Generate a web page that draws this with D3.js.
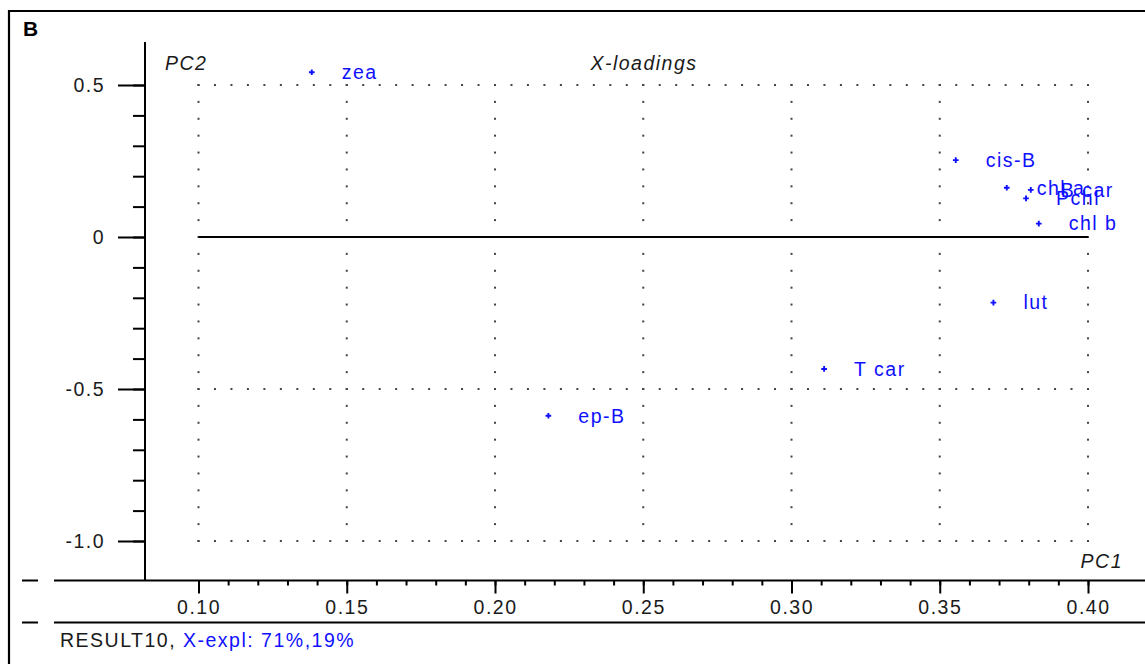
<!DOCTYPE html>
<html>
<head>
<meta charset="utf-8">
<script src="https://cdn.jsdelivr.net/npm/d3@7"></script>
<style>
  body { margin: 0; background: #fff; }
  svg { display: block; }
  text { font-family: "Liberation Sans", Arial, sans-serif; }
</style>
</head>
<body>
<svg id="chart" width="1145" height="664"></svg>
<script>
// X-loadings of the PCA model (PC1 vs PC2)
const variables = ["zea", "cis-B", "chl a", "B car", "Pchl", "chl b", "lut", "T car", "ep-B"];
const pc1 = [0.1382, 0.3554, 0.3726, 0.3807, 0.3791, 0.3834, 0.3681, 0.3110, 0.2180];
const pc2 = [0.542, 0.253, 0.162, 0.155, 0.127, 0.044, -0.216, -0.434, -0.588];

const xTicks = [0.10, 0.15, 0.20, 0.25, 0.30, 0.35, 0.40];
const xTickLabels = ["0.10", "0.15", "0.20", "0.25", "0.30", "0.35", "0.40"];
const yTicks = [0.5, 0, -0.5, -1.0];
const yTickLabels = ["0.5", "0", "-0.5", "-1.0"];
const yGridLines = [0.5, -0.5, -1.0];

const svg = d3.select("#chart");
const blue = "#1010ff";
const ink = "#1a1a1a";
const fontSize = 19.5;
const spacing = "1.5px";

const x = d3.scaleLinear().domain([0.10, 0.40]).range([198.5, 1088]);
const y = d3.scaleLinear().domain([0.5, -1.0]).range([85, 541]);

const axisY0 = 580.5;   // horizontal axis line
const axisX0 = 145;     // vertical axis line
const lowerRule = 622.5;

// frame
svg.append("path")
  .attr("d", "M9,664 V11 H1145")
  .attr("fill", "none").attr("stroke", "#000").attr("stroke-width", 2.2);

svg.append("text").attr("x", 23).attr("y", 36)
  .attr("font-size", 21).attr("font-weight", "bold").text("B");

// dotted grid
const xStep = 0.05 / 9;
const yStep = 0.5 / 9;
const gridDots = [];
xTicks.forEach(xv => {
  for (let k = 0; k <= 27; k++) gridDots.push([xv, 0.5 - k * yStep]);
});
yGridLines.forEach(yv => {
  for (let k = 0; k <= 54; k++) gridDots.push([0.10 + k * xStep, yv]);
});
svg.append("g").selectAll("rect").data(gridDots).join("rect")
  .attr("x", d => x(d[0]) - 1).attr("y", d => y(d[1]) - 1)
  .attr("width", 2).attr("height", 2).attr("fill", "#444");

// zero line
svg.append("line")
  .attr("x1", x(0.10)).attr("x2", x(0.40))
  .attr("y1", y(0)).attr("y2", y(0))
  .attr("stroke", "#000").attr("stroke-width", 2);

// axis lines
svg.append("line").attr("x1", axisX0).attr("x2", axisX0).attr("y1", 42).attr("y2", axisY0)
  .attr("stroke", "#000").attr("stroke-width", 2);
svg.append("line").attr("x1", 54).attr("x2", 1145).attr("y1", axisY0).attr("y2", axisY0)
  .attr("stroke", "#000").attr("stroke-width", 2);
svg.append("line").attr("x1", 54).attr("x2", 1145).attr("y1", lowerRule).attr("y2", lowerRule)
  .attr("stroke", "#000").attr("stroke-width", 2);
[axisY0, lowerRule].forEach(yy => {
  svg.append("line").attr("x1", 22).attr("x2", 38).attr("y1", yy).attr("y2", yy)
    .attr("stroke", "#000").attr("stroke-width", 2);
});

function styleAxis(g) {
  g.select(".domain").remove();
  g.selectAll(".tick line").attr("stroke", "#000").attr("stroke-width", 2);
  g.selectAll(".tick text").attr("font-size", fontSize).attr("fill", ink)
    .attr("font-family", "\"Liberation Sans\", Arial, sans-serif")
    .style("letter-spacing", spacing);
}

// x axis: minor ticks every 0.01, major ticks every 0.05
const xMinor = d3.range(10, 41).map(v => v / 100);
svg.append("g").attr("transform", `translate(0,${axisY0})`)
  .call(d3.axisBottom(x).tickValues(xMinor).tickSize(5).tickFormat(""))
  .call(styleAxis);
svg.append("g").attr("transform", `translate(0,${axisY0})`)
  .call(d3.axisBottom(x).tickValues(xTicks).tickSize(13).tickPadding(7)
    .tickFormat((d, i) => xTickLabels[i]))
  .call(styleAxis);

// y axis: minor ticks every 0.1, major ticks every 0.5
const yMinor = d3.range(-10, 6).map(v => v / 10);
svg.append("g").attr("transform", `translate(${axisX0},0)`)
  .call(d3.axisLeft(y).tickValues(yMinor).tickSize(12).tickFormat(""))
  .call(styleAxis);
svg.append("g").attr("transform", `translate(${axisX0},0)`)
  .call(d3.axisLeft(y).tickValues(yTicks).tickSize(27).tickPadding(13)
    .tickFormat((d, i) => yTickLabels[i]))
  .call(styleAxis);

// titles
svg.append("text").attr("x", 165).attr("y", 70).attr("font-size", fontSize)
  .attr("font-style", "italic").attr("fill", ink).style("letter-spacing", spacing).text("PC2");
svg.append("text").attr("x", 644).attr("y", 70).attr("font-size", fontSize)
  .attr("text-anchor", "middle").attr("font-style", "italic").attr("fill", ink)
  .style("letter-spacing", spacing).text("X-loadings");
svg.append("text").attr("x", 1123).attr("y", 568).attr("font-size", fontSize)
  .attr("text-anchor", "end").attr("font-style", "italic").attr("fill", ink)
  .style("letter-spacing", spacing).text("PC1");

// loadings
const pts = variables.map((name, i) => ({ name, px: pc1[i], py: pc2[i] }));
const marker = d3.symbol(d3.symbolCross).size(18);
const gp = svg.append("g");
gp.selectAll("path").data(pts).join("path")
  .attr("d", marker)
  .attr("transform", d => `translate(${x(d.px)},${y(d.py)})`)
  .attr("fill", blue);
gp.selectAll("text").data(pts).join("text")
  .attr("x", d => x(d.px) + 30).attr("y", d => y(d.py))
  .attr("dy", "0.35em").attr("font-size", fontSize).attr("fill", blue)
  .style("letter-spacing", spacing)
  .text(d => d.name);

// footer
const foot = svg.append("text").attr("x", 60).attr("y", 647).attr("font-size", fontSize)
  .style("letter-spacing", spacing);
foot.append("tspan").attr("fill", ink).text("RESULT10, ");
foot.append("tspan").attr("fill", blue).text("X-expl: 71%,19%");
</script>
</body>
</html>
